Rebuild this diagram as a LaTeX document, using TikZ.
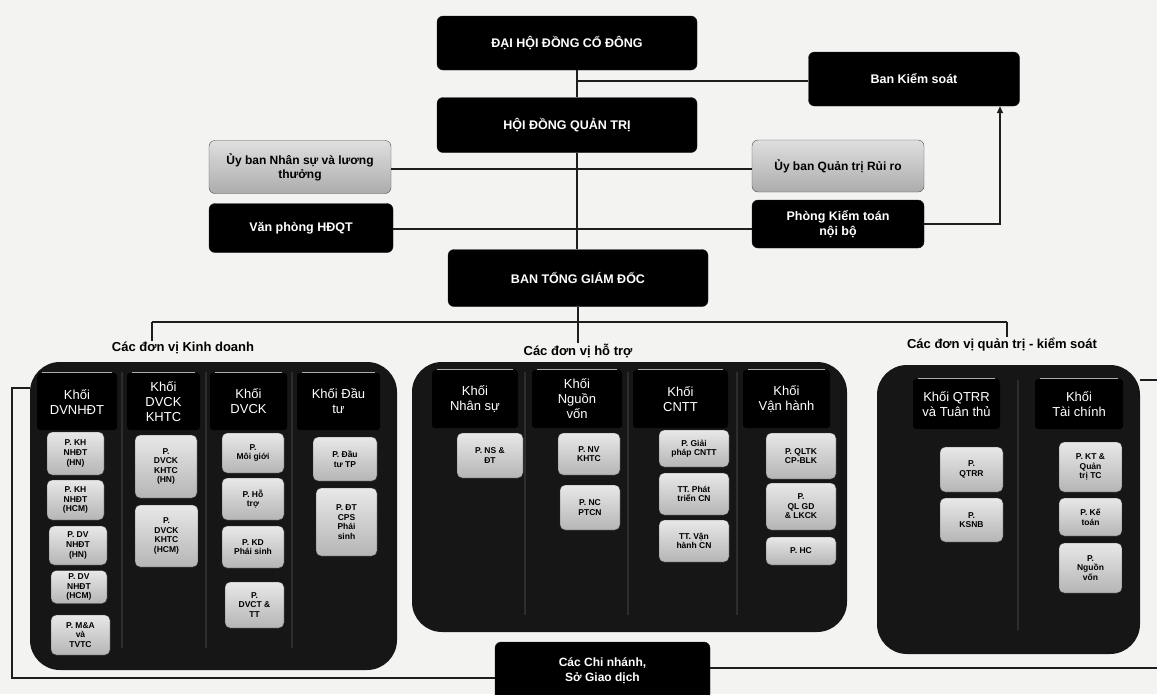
\documentclass[tikz,border=0pt]{standalone}
\usepackage{fontspec}
\setmainfont{Liberation Sans}
\usetikzlibrary{arrows.meta,calc}
\definecolor{bgc}{HTML}{F3F3F1}
\definecolor{pnl}{HTML}{161616}
\definecolor{ink}{HTML}{1E1E1E}
\tikzset{
  base/.style={rounded corners=6pt, align=center, inner sep=1pt},
  blackbox/.style={base, fill=black, draw=ink, text=white, font=\fontsize{12.5}{14.5}\selectfont\bfseries},
  silverbox/.style={base, draw=gray!60!black, top color=gray!25, bottom color=gray!65, text=black, font=\fontsize{12}{14}\selectfont\bfseries},
  unitbox/.style={base, rounded corners=5pt, draw=gray!40!black, top color=gray!18, bottom color=gray!58, text=black, font=\fontsize{8.5}{9.6}\selectfont\bfseries, inner sep=0.5pt},
  headbox/.style={fill=black, rounded corners=3pt, text=white, align=center, font=\fontsize{13}{15}\selectfont, inner sep=1pt},
  grplabel/.style={font=\fontsize{13}{15}\selectfont\bfseries, text=black, inner sep=1pt},
  panelbox/.style={fill=pnl, rounded corners=30pt, draw=none, inner sep=0pt},
  conn/.style={draw=ink, line width=1.6pt},
  divider/.style={draw=gray!35!black, line width=1.5pt},
  topline/.style={draw=gray!65, line width=1pt},
}
\begin{document}
\begin{tikzpicture}[x=1pt,y=-1pt]
\useasboundingbox[fill=bgc] (0,0) rectangle (1157,694);

% ---- top management ----
\node[blackbox, minimum width=260pt, minimum height=54pt] (dhdcd) at (567,43) {ĐẠI HỘI ĐỒNG CỔ ĐÔNG};
\node[blackbox, minimum width=211pt, minimum height=54pt] (bks) at (914,79) {Ban Kiểm soát};
\node[blackbox, minimum width=260pt, minimum height=55pt] (hdqt) at (567,125) {HỘI ĐỒNG QUẢN TRỊ};
\node[silverbox, minimum width=182pt, minimum height=53pt] (ubns) at (300,167) {Ủy ban Nhân sự và lương\\thưởng};
\node[silverbox, minimum width=172pt, minimum height=52pt] (ubqt) at (838,166) {Ủy ban Quản trị Rủi ro};
\node[blackbox, minimum width=184pt, minimum height=49pt] (vp) at (301,228) {Văn phòng HĐQT};
\node[blackbox, minimum width=172pt, minimum height=48pt] (ktnb) at (838,224) {Phòng Kiểm toán\\nội bộ};
\node[blackbox, minimum width=260pt, minimum height=57pt] (btgd) at (578,278) {BAN TỔNG GIÁM ĐỐC};

\coordinate (trunk) at (577,0);
\coordinate (bar) at (0,322);
\coordinate (tkK) at (152,0);
\coordinate (tkH) at (578,0);
\coordinate (tkQ) at (1007,0);

\draw[conn] (dhdcd.south -| trunk) -- (hdqt.north -| trunk);
\draw[conn] (bks.west |- 0,81) -- (trunk |- 0,81);
\draw[conn] (hdqt.south -| trunk) -- (btgd.north -| trunk);
\draw[conn] (ubns.east |- 0,169) -- (ubqt.west |- 0,169);
\draw[conn] (vp.east |- 0,229) -- (ktnb.west |- 0,229);
\draw[conn, -{Triangle[length=7pt,width=6pt]}] (ktnb.east |- 0,224) -| ([xshift=86pt]bks.south);

% ---- groups ----
\node[grplabel] (lblK) at (183,348) {Các đơn vị Kinh doanh};
\node[grplabel] (lblH) at (578,351) {Các đơn vị hỗ trợ};
\node[grplabel] (lblQ) at (1002,345) {Các đơn vị quản trị - kiểm soát};

\draw[conn] (btgd.south -| tkH) -- (tkH |- bar);
\draw[conn] (tkK |- bar) -- (tkQ |- bar);
\draw[conn] (tkK |- bar) -- (tkK |- lblK.north);
\draw[conn] (tkH |- bar) -- (tkH |- lblH.north);
\draw[conn] (tkQ |- bar) -- (tkQ |- lblQ.north);

% ---- panels ----
\node[panelbox, minimum width=367pt, minimum height=308pt] (pK) at (213.5,516) {};
\node[panelbox, minimum width=435pt, minimum height=270pt] (pH) at (629.5,497) {};
\node[panelbox, minimum width=263pt, minimum height=289pt] (pQ) at (1008.5,509.5) {};

% dividers
\foreach \xx in {122,206,292} \draw[divider] (\xx,372) -- (\xx,648);
\foreach \xx in {525,628,737} \draw[divider] (\xx,372) -- (\xx,615);
\draw[divider] (1018,380) -- (1018,630);

% ---- headers ----
\node[headbox, minimum width=80pt, minimum height=57pt] (hK1) at (77,401.5) {Khối\\DVNHĐT};
\node[headbox, minimum width=73pt, minimum height=57pt] (hK2) at (163.5,401.5) {Khối\\DVCK\\KHTC};
\node[headbox, minimum width=77pt, minimum height=57pt] (hK3) at (248.5,401.5) {Khối\\DVCK};
\node[headbox, minimum width=83pt, minimum height=57pt] (hK4) at (338.5,401.5) {Khối Đầu\\tư};
\node[headbox, minimum width=86pt, minimum height=58pt] (hH1) at (475,399) {Khối\\Nhân sự};
\node[headbox, minimum width=90pt, minimum height=58pt] (hH2) at (577,399) {Khối\\Nguồn\\vốn};
\node[headbox, minimum width=95pt, minimum height=58pt] (hH3) at (680.5,399) {Khối\\CNTT};
\node[headbox, minimum width=87pt, minimum height=58pt] (hH4) at (786.5,399) {Khối\\Vận hành};
\node[headbox, minimum width=87pt, minimum height=50pt] (hQ1) at (956.5,404) {Khối QTRR\\và Tuân thủ};
\node[headbox, minimum width=88pt, minimum height=50pt] (hQ2) at (1079,404) {Khối\\Tài chính};
\foreach \n in {hK1,hK2,hK3,hK4,hH1,hH2,hH3,hH4,hQ1,hQ2}
  \draw[topline] ([xshift=5pt]\n.north west) -- ([xshift=-5pt]\n.north east);

% ---- units: Kinh doanh ----
\node[unitbox, minimum width=57pt, minimum height=43pt] (K1a) at (75.5,453.5) {P. KH\\NHĐT\\(HN)};
\node[unitbox, minimum width=57pt, minimum height=40pt] (K1b) at (75.5,500) {P. KH\\NHĐT\\(HCM)};
\node[unitbox, minimum width=58pt, minimum height=39pt] (K1c) at (78,545.5) {P. DV\\NHĐT\\(HN)};
\node[unitbox, minimum width=56pt, minimum height=33pt] (K1d) at (79,587) {P. DV\\NHĐT\\(HCM)};
\node[unitbox, minimum width=59pt, minimum height=40pt] (K1e) at (80.5,635) {P. M\&A\\và\\TVTC};
\node[unitbox, minimum width=62pt, minimum height=63pt] (K2a) at (166,466.5) {P.\\DVCK\\KHTC\\(HN)};
\node[unitbox, minimum width=63pt, minimum height=62pt] (K2b) at (166.5,536) {P.\\DVCK\\KHTC\\(HCM)};
\node[unitbox, minimum width=62pt, minimum height=40pt] (K3a) at (253,453) {P.\\Môi giới};
\node[unitbox, minimum width=62pt, minimum height=42pt] (K3b) at (253,499) {P. Hỗ\\trợ};
\node[unitbox, minimum width=62pt, minimum height=42pt] (K3c) at (253,547) {P. KD\\Phái sinh};
\node[unitbox, minimum width=59pt, minimum height=46pt] (K3d) at (254.5,605) {P.\\DVCT \&\\TT};
\node[unitbox, minimum width=64pt, minimum height=44pt] (K4a) at (345,459) {P. Đầu\\tư TP};
\node[unitbox, minimum width=61pt, minimum height=68pt] (K4b) at (346.5,522) {P. ĐT\\CPS\\Phái\\sinh};

% ---- units: hỗ trợ ----
\node[unitbox, minimum width=66pt, minimum height=45pt] (H1a) at (490,455.5) {P. NS \&\\ĐT};
\node[unitbox, minimum width=62pt, minimum height=42pt] (H2a) at (589,454) {P. NV\\KHTC};
\node[unitbox, minimum width=60pt, minimum height=45pt] (H2b) at (590,507.5) {P. NC\\PTCN};
\node[unitbox, minimum width=70pt, minimum height=37pt] (H3a) at (694,448.5) {P. Giải\\pháp CNTT};
\node[unitbox, minimum width=70pt, minimum height=42pt] (H3b) at (694,494) {TT. Phát\\triển CN};
\node[unitbox, minimum width=70pt, minimum height=42pt] (H3c) at (694,541) {TT. Vận\\hành CN};
\node[unitbox, minimum width=70pt, minimum height=46pt] (H4a) at (801,456) {P. QLTK\\CP-BLK};
\node[unitbox, minimum width=70pt, minimum height=47pt] (H4b) at (801,506.5) {P.\\QL GD\\\& LKCK};
\node[unitbox, minimum width=70pt, minimum height=28pt] (H4c) at (801,551) {P. HC};

% ---- units: quản trị - kiểm soát ----
\node[unitbox, minimum width=63pt, minimum height=45pt] (Q1a) at (971.5,469.5) {P.\\QTRR};
\node[unitbox, minimum width=63pt, minimum height=44pt] (Q1b) at (971.5,520) {P.\\KSNB};
\node[unitbox, minimum width=63pt, minimum height=50pt] (Q2a) at (1090.5,467) {P. KT \&\\Quản\\trị TC};
\node[unitbox, minimum width=63pt, minimum height=38pt] (Q2b) at (1090.5,517) {P. Kế\\toán};
\node[unitbox, minimum width=63pt, minimum height=50pt] (Q2c) at (1090.5,568) {P.\\Nguồn\\vốn};

% ---- branches ----
\node[blackbox, minimum width=215pt, minimum height=58pt, font=\fontsize{12}{15}\selectfont\bfseries] (cn) at (602.5,671) {Các Chi nhánh,\\Sở Giao dịch};

\coordinate (fl1) at (12,388);
\coordinate (fl2) at (12,678);
\coordinate (fr1) at (1157,380);
\coordinate (fr2) at (1157,668);
\draw[conn] (pK.west |- fl1) -- (fl1) -- (fl2) -- (cn.west |- fl2);
\draw[conn] (cn.east |- fr2) -- (fr2);
\draw[conn] (pQ.east |- fr1) -- (fr1);
\end{tikzpicture}
\end{document}
